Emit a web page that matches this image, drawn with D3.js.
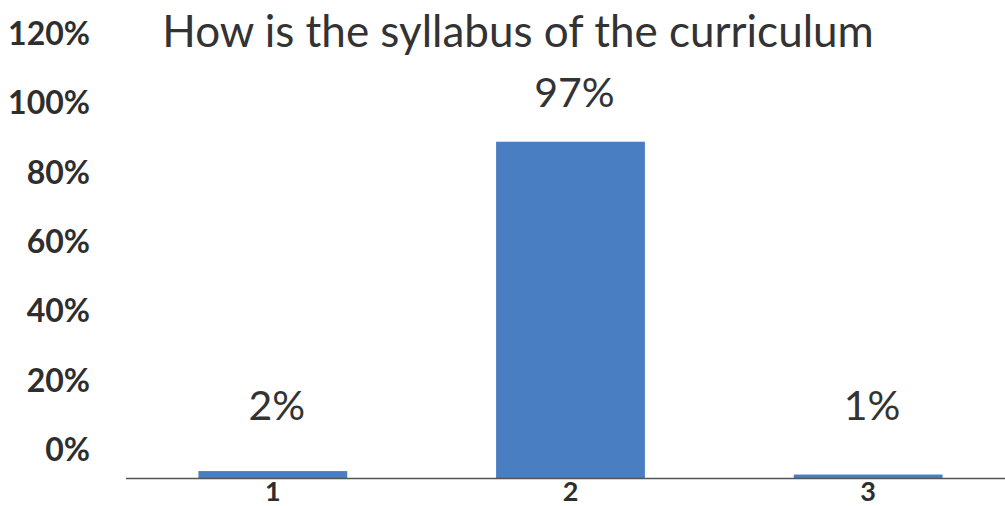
<!DOCTYPE html>
<html><head><meta charset="utf-8">
<script src="https://cdn.jsdelivr.net/npm/d3@7/dist/d3.min.js"></script>
<style>
html,body{margin:0;padding:0;background:#fff;}
svg{display:block;font-family:Lato,"Open Sans",sans-serif;}
</style></head>
<body><svg id="c" width="1005" height="506"></svg>
<script>
const categories = ["1", "2", "3"];
const values = [0.02, 0.97, 0.01];
const valueLabels = ["2%", "97%", "1%"];
const yTicks = [0, 0.2, 0.4, 0.6, 0.8, 1.0, 1.2];
const title = "How is the syllabus of the curriculum";

const svg = d3.select("#c");
const x = d3.scaleBand().domain(categories).range([124, 1017]).paddingInner(0.5).paddingOuter(0.25);
const y = d3.scaleLinear().domain([0, 1.2]).range([478, 62]);

// y axis labels (no line, no ticks); labels sit above their gridline positions as in the reference
const yAxis = d3.axisLeft(y).tickValues(yTicks).tickFormat(d3.format(".0%")).tickSize(0).tickPadding(0);
const gy = svg.append("g").attr("transform", "translate(90,0)").call(yAxis);
gy.select(".domain").remove();
gy.selectAll("text")
  .attr("dy", "-0.55em")
  .attr("fill", "#2e2e2e")
  .style("font-family", "Lato, sans-serif")
  .style("font-size", "32px")
  .style("font-weight", "bold");

// bars
svg.append("g").selectAll("rect").data(values).join("rect")
  .attr("x", (d, i) => x(categories[i]))
  .attr("width", x.bandwidth())
  .attr("y", d => y(d))
  .attr("height", d => y(0) - y(d))
  .attr("fill", "#4A7EC2");

// x axis
const xAxis = d3.axisBottom(x).tickSize(0).tickPadding(4);
const gx = svg.append("g").attr("transform", `translate(0,${y(0)})`).call(xAxis);
gx.select(".domain").attr("stroke", "#555").attr("stroke-width", 1.6).attr("d", "M126,0.5H1005");
gx.selectAll("text")
  .attr("fill", "#2e2e2e")
  .style("font-family", "Lato, sans-serif")
  .style("font-size", "27px")
  .style("font-weight", "bold");

// value labels
svg.append("g").selectAll("text").data(values).join("text")
  .attr("x", (d, i) => x(categories[i]) + x.bandwidth() / 2 + 4)
  .attr("y", d => Math.min(y(d) - 35, 420))
  .attr("text-anchor", "middle")
  .attr("fill", "#333")
  .style("font-size", "41px")
  .text((d, i) => valueLabels[i]);

// title
svg.append("text")
  .attr("x", 518).attr("y", 47)
  .attr("text-anchor", "middle")
  .attr("fill", "#333")
  .style("font-size", "44px")
  .text(title);
</script>
</body></html>
